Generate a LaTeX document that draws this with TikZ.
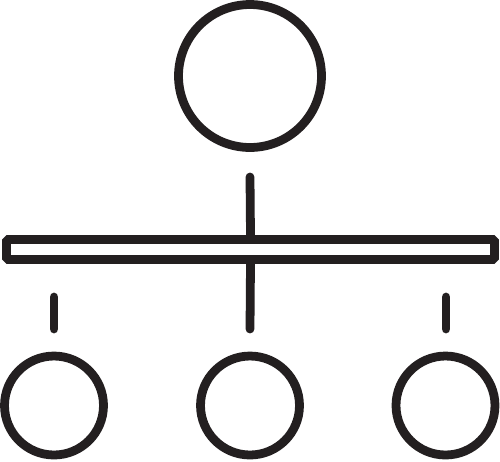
\documentclass[tikz,border=0pt]{standalone}
\usetikzlibrary{positioning}

\definecolor{inkdark}{RGB}{35,31,32}

\begin{document}
\begin{tikzpicture}[x=0.02cm, y=-0.02cm, line width=5pt, color=inkdark,
        member/.style={draw, circle, inner sep=0pt, minimum size=1.98cm},
        link/.style={line cap=round}]
    \useasboundingbox (0,0) rectangle (500,461);

    % Head circle
    \node[member, minimum size=2.86cm] (head) at (250,76) {};

    % Bar
    \node[draw, rectangle, rounded corners=1pt, inner sep=0pt,
        minimum width=9.76cm, minimum height=0.40cm] (bar) at (250.5,249.5) {};

    % Member circles
    \node[member] (left) at (54,405.5) {};
    \node[member] (middle) at (250,405.5) {};
    \node[member] (right) at (445.5,405.5) {};

    % Stubs
    \coordinate (headstub) at (250,177);
    \coordinate (leftstub) at (54,297);
    \coordinate (leftend) at (54,329);
    \coordinate (middleend) at (250,329);
    \coordinate (rightstub) at (446,297);
    \coordinate (rightend) at (446,329);

    \draw[link] (headstub) -- (bar.north);
    \draw[link] (bar.south) -- (middleend);
    \draw[link] (leftstub) -- (leftend);
    \draw[link] (rightstub) -- (rightend);
\end{tikzpicture}
\end{document}
